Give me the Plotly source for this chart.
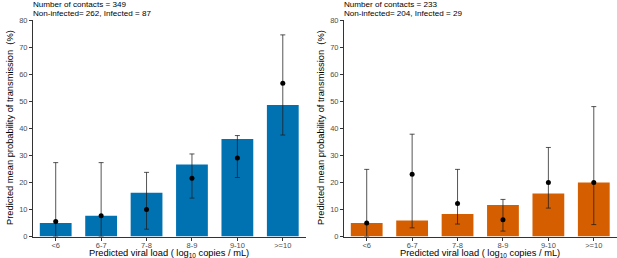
import plotly.graph_objects as go

categories = ["<6", "6-7", "7-8", "8-9", "9-10", ">=10"]

# Left panel (blue)
left_bar = [5.0, 7.7, 16.2, 26.6, 36.0, 48.6]
left_point = [5.5, 7.7, 10.0, 21.5, 29.0, 56.6]
left_lo = [0.0, 0.0, 2.7, 14.2, 21.8, 37.5]
left_hi = [27.3, 27.3, 23.7, 30.5, 37.3, 74.5]
left_title = ["Number of contacts = 349", "Non-infected= 262, Infected = 87"]

# Right panel (orange)
right_bar = [5.0, 5.9, 8.3, 11.6, 15.9, 20.0]
right_point = [5.0, 23.0, 12.2, 6.2, 20.0, 20.0]
right_lo = [0.0, 3.2, 4.6, 2.0, 10.5, 4.4]
right_hi = [24.8, 37.8, 24.8, 13.7, 32.9, 48.0]
right_title = ["Number of contacts = 233", "Non-infected= 204, Infected = 29"]

y_ticks = [0, 10, 20, 30, 40, 50, 60, 70, 80]

W, H = 617, 258
font = "Liberation Sans, Arial, sans-serif"

fig = go.Figure()

panels = [
    (left_bar, left_point, left_lo, left_hi, "#0072B2", "x", "y"),
    (right_bar, right_point, right_lo, right_hi, "#D55E00", "x2", "y2"),
]
for bars, pts, lo, hi, color, xa, ya in panels:
    fig.add_trace(go.Bar(x=categories, y=bars, marker=dict(color=color, line=dict(width=0)),
                         width=0.7, xaxis=xa, yaxis=ya, showlegend=False, hoverinfo="skip"))
    fig.add_trace(go.Scatter(
        x=categories, y=pts, mode="markers", xaxis=xa, yaxis=ya, showlegend=False,
        marker=dict(color="black", size=5),
        error_y=dict(type="data", symmetric=False,
                     array=[h - p for h, p in zip(hi, pts)],
                     arrayminus=[p - l for p, l in zip(pts, lo)],
                     color="rgba(30,30,30,0.75)", thickness=1, width=2.5)))

ydom = [(258 - 236.5) / H, (258 - 20) / H]
axis_common = dict(showline=True, linecolor="#333333", linewidth=1, ticks="outside",
                   ticklen=3, tickcolor="#333333", tickfont=dict(size=7.5, color="#4D4D4D", family=font),
                   showgrid=False, zeroline=False, automargin=False, tickangle=0)

fig.update_layout(
    template="none",
    width=W, height=H, margin=dict(l=0, r=0, t=0, b=0, autoexpand=False),
    paper_bgcolor="white", plot_bgcolor="white", bargap=0.3,
    font=dict(family=font),
    xaxis=dict(domain=[33 / W, 305.5 / W], range=[-0.5, 5.5], anchor="y", ticklabelstandoff=-2, **axis_common),
    yaxis=dict(domain=ydom, range=[0, 80], tickvals=y_ticks, anchor="x", **axis_common),
    xaxis2=dict(domain=[344 / W, 616.5 / W], range=[-0.5, 5.5], anchor="y2", ticklabelstandoff=-2, **axis_common),
    yaxis2=dict(domain=ydom, range=[0, 80], tickvals=y_ticks, anchor="x2", **axis_common),
)

annotations = []
for title, x0, x1 in [(left_title, 33, 305.5), (right_title, 344, 616.5)]:
    for line, yc in zip(title, [4.5, 13.5]):
        annotations.append(dict(text=line, xref="paper", yref="paper",
                                x=(x0 - 2) / W, y=(H - yc) / H, xanchor="left", yanchor="middle", align="left",
                                showarrow=False, font=dict(size=8.1, color="black", family=font)))
    annotations.append(dict(text="Predicted viral load ( log<sub>10</sub> copies / mL)", xref="paper", yref="paper",
                            x=(x0 + x1) / 2 / W, y=(H - 253.3) / H, xanchor="center", yanchor="middle",
                            showarrow=False, font=dict(size=9.3, color="black", family=font)))
    annotations.append(dict(text="Predicted mean probability of transmission  (%)", xref="paper", yref="paper",
                            x=(x0 - 23) / W, y=(H - 128) / H, xanchor="center", yanchor="middle",
                            textangle=-90, showarrow=False, font=dict(size=9.3, color="black", family=font)))
fig.update_layout(annotations=annotations)

fig.write_html("out.html", config={"displayModeBar": False},
               post_script="document.body.style.margin='0';document.body.style.overflow='hidden';")
